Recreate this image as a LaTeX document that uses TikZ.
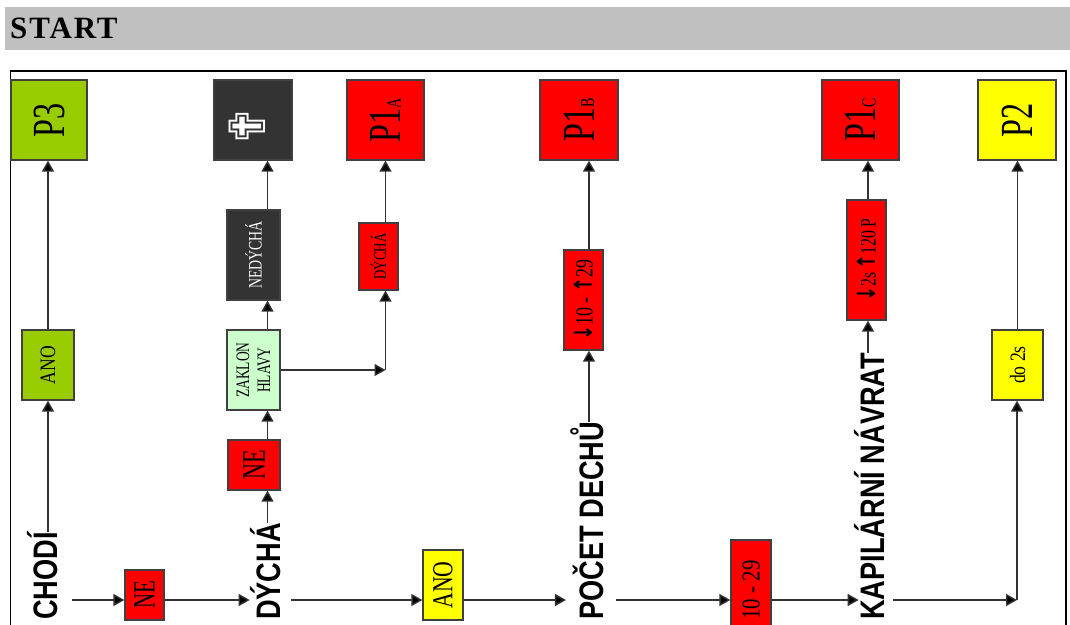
\documentclass[tikz,border=0pt]{standalone}
\usepackage{fontspec}
\setmainfont{Liberation Serif}
\setsansfont{Liberation Sans}
\newfontfamily\symbolfont{DejaVu Sans}
\usetikzlibrary{arrows.meta, positioning}
\definecolor{startgray}{RGB}{192,192,192}
\definecolor{triagegreen}{RGB}{153,204,0}
\definecolor{triagered}{RGB}{255,0,0}
\definecolor{triageyellow}{RGB}{255,255,0}
\definecolor{triagedark}{RGB}{51,51,51}
\definecolor{triagemint}{RGB}{204,255,204}
\definecolor{linegray}{RGB}{50,50,50}
\newcommand{\squeeze}[2]{\scalebox{#1}[1]{#2}}
\newcommand{\sized}[1]{\fontsize{#1}{#1}\selectfont}
\newcommand{\downmark}{{\symbolfont\bfseries\sized{25}↓}}
\newcommand{\upmark}{{\symbolfont\bfseries\sized{25}↑}}
\tikzset{
    arr/.style={draw=linegray, line width=1.4pt, -{Triangle[length=11pt,width=12pt,fill=black]}},
    triage/.style={draw=black!75, line width=1.3pt, rotate=90, inner sep=0pt, align=center, anchor=center},
    question/.style={rotate=90, inner sep=0pt, font=\sffamily\bfseries\sized{34}, anchor=base west},
}

\begin{document}
\begin{tikzpicture}[x=1pt, y=-1pt]
\clip (0,0) rectangle (1070,624);
\fill[white] (0,0) rectangle (1070,624);

% === header ===
\fill[startgray] (5,7) rectangle (1070,50);
\node[font=\bfseries\sized{31}\addfontfeature{LetterSpace=6}, anchor=west, inner sep=0pt] (start) at (10,28) {START};
\draw[black, line width=1.3pt] (10.5,640) -- (10.5,71) -- (1066,71) -- (1066,640);

\coordinate (row) at (0,600);
\coordinate (colbreath) at (267.5,0);
\coordinate (colrate) at (589,0);
\coordinate (colrefill) at (868,0);

% === end boxes (top row) ===
\node[triage, fill=triagegreen, minimum width=80pt, minimum height=76pt, font=\sized{46}] (pthree) at (49,120) {\squeeze{0.7}{P3}};
\node[triage, fill=triagedark, minimum width=80pt, minimum height=78pt] (dead) at (253,120) {};
\node[rotate=90, text=white, inner sep=0pt, font=\symbolfont\sized{50}] (crossmark) at (247,127) {✟};
\node[triage, fill=triagered, minimum width=80pt, minimum height=77pt, font=\sized{46}] (ponea) at (385.5,120) {\squeeze{0.7}{P1}\sized{20}\squeeze{0.7}{A}};
\node[triage, fill=triagered, minimum width=80pt, minimum height=78pt, font=\sized{46}] (poneb) at (579,120) {\squeeze{0.7}{P1}\sized{20}\squeeze{0.7}{B}};
\node[triage, fill=triagered, minimum width=80pt, minimum height=77pt, font=\sized{46}] (ponec) at (860.5,120) {\squeeze{0.7}{P1}\sized{20}\squeeze{0.7}{C}};
\node[triage, fill=triageyellow, minimum width=80pt, minimum height=78pt, font=\sized{46}] (ptwo) at (1017,120) {\squeeze{0.7}{P2}};

% === middle boxes ===
\node[triage, fill=triagegreen, minimum width=70pt, minimum height=52pt, font=\sized{22}] (anoleft) at (48,365) {\squeeze{0.8}{ANO}};
\node[triage, fill=triagedark, minimum width=90pt, minimum height=53pt, text=white, font=\sized{19}] (notbreath) at (253.5,255) {\squeeze{0.73}{NEDÝCHÁ}};
\node[triage, fill=triagered, minimum width=67pt, minimum height=39pt, font=\sized{18}] (breath) at (378.5,256.5) {\squeeze{0.72}{DÝCHÁ}};
\node[triage, fill=triagemint, minimum width=80pt, minimum height=53pt, font=\sized{19}] (airway) at (253.5,370) {\squeeze{0.71}{ZAKLON}\\[2pt]\squeeze{0.71}{HLAVY}};
\node[triage, fill=triagered, minimum width=50pt, minimum height=52pt, font=\sized{33}] (nemid) at (254,465) {\squeeze{0.67}{NE}};
\node[triage, fill=triagered, minimum width=100pt, minimum height=39pt, font=\sized{25}] (rate) at (583.5,300) {\squeeze{0.72}{\downmark10 - \upmark29}};
\node[triage, fill=triagered, minimum width=120pt, minimum height=39pt, font=\sized{22}] (refill) at (866.5,260) {\squeeze{0.72}{\downmark2s\,\upmark120 P}};
\node[triage, fill=triageyellow, minimum width=70pt, minimum height=51pt, font=\sized{22}] (twosec) at (1017.5,365) {\squeeze{0.8}{do 2s}};

% === bottom row ===
\node[triage, fill=triagered, minimum width=50pt, minimum height=39pt, font=\sized{31}] (nelow) at (144.5,595) {\squeeze{0.67}{NE}};
\node[triage, fill=triageyellow, minimum width=70pt, minimum height=40pt, font=\sized{29}] (anolow) at (443,585) {\squeeze{0.75}{ANO}};
\node[triage, fill=triagered, minimum width=100pt, minimum height=40pt, font=\sized{26}] (normal) at (751,590) {\squeeze{0.8}{10 - 29}};

% === questions ===
\node[question] (walks) at (57,620) {\squeeze{0.8}{CHODÍ}};
\node[question] (breathes) at (280,620) {\squeeze{0.8}{DÝCHÁ}};
\node[question] (breaths) at (603,620) {\squeeze{0.8}{POČET DECHŮ}};
\node[question] (capillary) at (884,620) {\squeeze{0.8}{KAPILÁRNÍ NÁVRAT}};

% === connectors up ===
\draw[arr] (walks.east -| anoleft) -- (anoleft.west);
\draw[arr] (anoleft.east) -- (anoleft.east |- pthree.west);
\draw[arr] (breathes.east -| colbreath) -- (nemid.west -| colbreath);
\draw[arr] (nemid.east -| colbreath) -- (airway.west -| colbreath);
\draw[arr] (airway.east -| colbreath) -- (notbreath.west -| colbreath);
\draw[arr] (notbreath.east -| colbreath) -- (dead.west -| colbreath);
\coordinate (bend) at (385.5,370);
\draw[arr] (airway.south |- bend) -- (bend);
\draw[arr] (bend) -- (bend |- breath.west);
\draw[arr] (bend |- breath.east) -- (bend |- ponea.west);
\draw[arr] (breaths.east -| colrate) -- (rate.west -| colrate);
\draw[arr] (rate.east -| colrate) -- (poneb.west -| colrate);
\draw[arr] (capillary.east -| colrefill) -- (refill.west -| colrefill);
\draw[arr] (refill.east -| colrefill) -- (ponec.west -| colrefill);
\draw[arr] (twosec.east) -- (twosec.east |- ptwo.west);

% === connectors along the row ===
\coordinate (corner) at (1017,600);
\draw[arr] (72,600) -- (nelow.north |- row);
\draw[arr] (nelow.south |- row) -- (breathes.north |- row);
\draw[arr] (breathes.south |- row) ++(10,0) -- (anolow.north |- row);
\draw[arr, shorten >=4pt] (anolow.south |- row) -- (breaths.north |- row);
\draw[arr] (breaths.south |- row) ++(12,0) -- (normal.north |- row);
\draw[arr, shorten >=-5pt] (normal.south |- row) -- (capillary.north |- row);
\draw[arr] (capillary.south |- row) ++(9,0) -- (corner);
\draw[arr] (corner) -- (twosec.west -| corner);
\end{tikzpicture}
\end{document}
